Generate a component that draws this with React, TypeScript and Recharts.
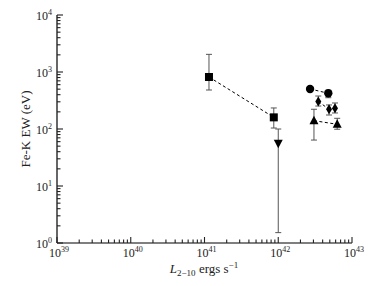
import React from 'react';
import { ScatterChart, Scatter, XAxis, YAxis, ErrorBar } from 'recharts';

// luminosities (erg/s) and Fe-K EW (eV)
const SQUARE_X = [1.15e41, 8.7e41];
const SQUARE_Y = [817, 160];
const SQUARE_LO = [483, 104];
const SQUARE_HI = [2040, 234];

const DOWN_X = [1.0e42];
const DOWN_Y = [56];
const DOWN_LO = [1.52];
const DOWN_HI = [100];

const CIRCLE_X = [2.7e42, 4.77e42];
const CIRCLE_Y = [504, 423];
const CIRCLE_LO = [504, 354];
const CIRCLE_HI = [504, 480];

const DIAMOND_X = [3.49e42, 4.88e42, 5.88e42];
const DIAMOND_Y = [304, 222, 231];
const DIAMOND_LO = [253, 176, 191];
const DIAMOND_HI = [379, 264, 286];

const TRI_X = [3.05e42, 6.3e42];
const TRI_Y = [140, 121];
const TRI_LO = [64, 99];
const TRI_HI = [222, 154];

const X_EXP = [39, 40, 41, 42, 43];
const Y_EXP = [0, 1, 2, 3, 4];

const FONT = '"Liberation Serif", "DejaVu Serif", serif';

const build = (xs: number[], ys: number[], lo: number[], hi: number[]) =>
  xs.map((x, i) => ({ x, y: ys[i], err: [ys[i] - lo[i], hi[i] - ys[i]] }));

const withMinors = (exps: number[]) => {
  const out: number[] = [];
  exps.forEach((e, i) => {
    out.push(Math.pow(10, e));
    if (i < exps.length - 1) for (let m = 2; m <= 9; m++) out.push(m * Math.pow(10, e));
  });
  return out;
};

const X_TICKS = withMinors(X_EXP);
const Y_TICKS = withMinors(Y_EXP);

const isMajor = (v: number) => Math.abs(Math.log10(v) - Math.round(Math.log10(v))) < 1e-6;
const MAJ = 6;
const MIN = 3.5;
const TW = 1.1;
const TC = '#222';

const Label10 = ({ x, y, exp, anchor }: { x: number; y: number; exp: number; anchor: string }) => (
  <text x={x} y={y} textAnchor={anchor} fontFamily={FONT} fontSize={12} fill="#222">
    10
    <tspan dy={-5} fontSize={8}>{exp}</tspan>
  </text>
);

const BottomTick = (p: any) => {
  const v = p.payload.value;
  const major = isMajor(v);
  return (
    <g>
      <line x1={p.x} x2={p.x} y1={p.y} y2={p.y - (major ? MAJ : MIN)} stroke={TC} strokeWidth={TW} />
      {major && <Label10 x={p.x + 2} y={p.y + 14} exp={Math.round(Math.log10(v))} anchor="middle" />}
    </g>
  );
};

const TopTick = (p: any) => {
  const major = isMajor(p.payload.value);
  return <line x1={p.x} x2={p.x} y1={p.y} y2={p.y + (major ? MAJ : MIN)} stroke={TC} strokeWidth={TW} />;
};

const LeftTick = (p: any) => {
  const v = p.payload.value;
  const major = isMajor(v);
  return (
    <g>
      <line x1={p.x} x2={p.x + (major ? MAJ : MIN)} y1={p.y} y2={p.y} stroke={TC} strokeWidth={TW} />
      {major && <Label10 x={p.x - 5} y={p.y + 5} exp={Math.round(Math.log10(v))} anchor="end" />}
    </g>
  );
};

const RightTick = (p: any) => {
  const major = isMajor(p.payload.value);
  return <line x1={p.x} x2={p.x - (major ? MAJ : MIN)} y1={p.y} y2={p.y} stroke={TC} strokeWidth={TW} />;
};

const Square = (p: any) => <rect x={p.cx - 4} y={p.cy - 4} width={8} height={8} fill="#000" />;
const Circle = (p: any) => <circle cx={p.cx} cy={p.cy} r={4.2} fill="#000" />;
const Diamond = (p: any) => (
  <polygon points={`${p.cx},${p.cy - 5} ${p.cx + 3},${p.cy} ${p.cx},${p.cy + 5} ${p.cx - 3},${p.cy}`} fill="#000" />
);
const TriUp = (p: any) => (
  <polygon points={`${p.cx},${p.cy - 5} ${p.cx + 4.5},${p.cy + 3.5} ${p.cx - 4.5},${p.cy + 3.5}`} fill="#000" />
);
const TriDown = (p: any) => (
  <polygon points={`${p.cx},${p.cy + 5} ${p.cx + 4.5},${p.cy - 3.5} ${p.cx - 4.5},${p.cy - 3.5}`} fill="#000" />
);

const dashed = { stroke: '#000', strokeWidth: 1, strokeDasharray: '3 2.5' };
const eb = <ErrorBar dataKey="err" direction="y" width={3} stroke="#555" strokeWidth={1} />;

export default function App() {
  const axisLine = { stroke: '#000', strokeWidth: 1.2 };
  const common = { type: 'number' as const, scale: 'log' as const, interval: 0, allowDataOverflow: true, tickSize: 0, tickMargin: 0, tickLine: false, axisLine };
  return (
    <div style={{ position: 'absolute', left: 0, top: 0, width: 382, height: 286, background: '#fff' }}>
      <ScatterChart width={382} height={286} margin={{ top: 15, right: 30, bottom: 0, left: 0 }}>
        <XAxis {...common} dataKey="x" domain={[1e39, 1e43]} ticks={X_TICKS} height={43} tick={<BottomTick />} />
        <XAxis {...common} xAxisId="t" dataKey="x" orientation="top" domain={[1e39, 1e43]} ticks={X_TICKS} height={0} tick={<TopTick />} />
        <YAxis {...common} dataKey="y" domain={[1, 1e4]} ticks={Y_TICKS} width={57} tick={<LeftTick />} />
        <YAxis {...common} yAxisId="r" dataKey="y" orientation="right" domain={[1, 1e4]} ticks={Y_TICKS} width={0} tick={<RightTick />} />
        <Scatter data={build(SQUARE_X, SQUARE_Y, SQUARE_LO, SQUARE_HI)} line={dashed} shape={Square} isAnimationActive={false}>
          {eb}
        </Scatter>
        <Scatter data={build(DOWN_X, DOWN_Y, DOWN_LO, DOWN_HI)} shape={TriDown} isAnimationActive={false}>
          {eb}
        </Scatter>
        <Scatter data={build(CIRCLE_X, CIRCLE_Y, CIRCLE_LO, CIRCLE_HI)} line={dashed} shape={Circle} isAnimationActive={false}>
          {eb}
        </Scatter>
        <Scatter data={build(DIAMOND_X, DIAMOND_Y, DIAMOND_LO, DIAMOND_HI)} line={dashed} shape={Diamond} isAnimationActive={false}>
          {eb}
        </Scatter>
        <Scatter
          xAxisId="t"
          yAxisId="r"
          data={build(TRI_X, TRI_Y, TRI_LO, TRI_HI)}
          line={dashed}
          shape={TriUp}
          isAnimationActive={false}
        >
          {eb}
        </Scatter>
      </ScatterChart>
      <svg width={382} height={286} style={{ position: 'absolute', left: 0, top: 0, pointerEvents: 'none' }}>
        <text x={0} y={0} transform="translate(30,129) rotate(-90)" textAnchor="middle" fontFamily={FONT} fontSize={13} fill="#222">
          Fe-K EW (eV)
        </text>
        <text x={204} y={273} textAnchor="middle" fontFamily={FONT} fontSize={13} fill="#222">
          <tspan fontStyle="italic">L</tspan>
          <tspan dy={3} fontSize={9}>2−10</tspan>
          <tspan dy={-3}> ergs s</tspan>
          <tspan dy={-5} fontSize={9}>−1</tspan>
        </text>
      </svg>
    </div>
  );
}
